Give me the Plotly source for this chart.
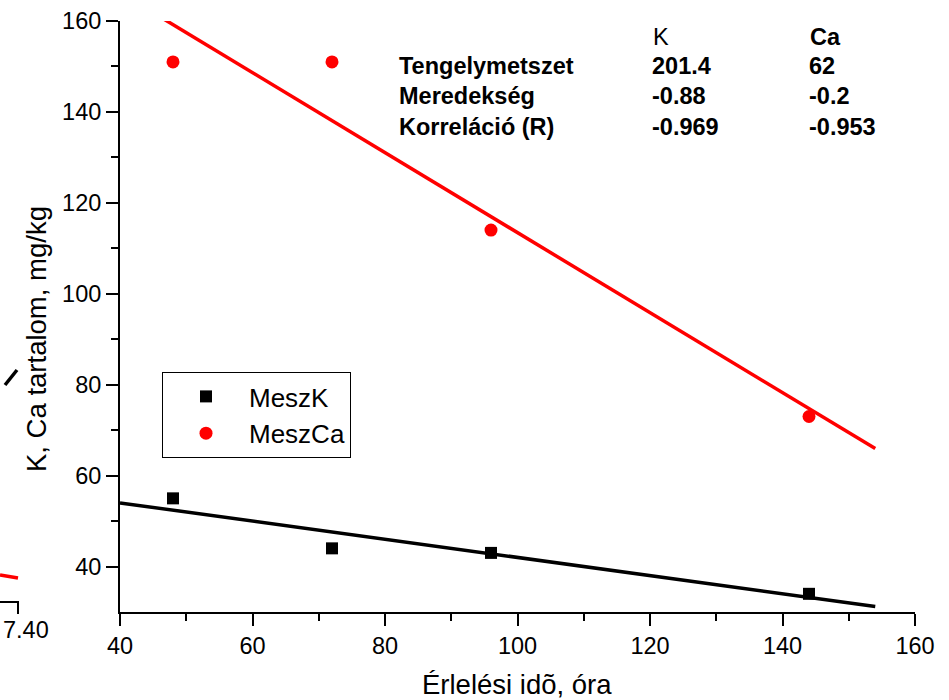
import numpy as np
import plotly.graph_objects as go

# ---- data ----
hours = [48, 72, 96, 144]
mesz_k = [55, 44, 43, 34]
mesz_ca = [151, 151, 114, 73]
fit_x_range = [40, 154]

table_rows = ["Tengelymetszet", "Meredekség", "Korreláció (R)"]
table_k = ["201.4", "-0.88", "-0.969"]
table_ca = ["62", "-0.2", "-0.953"]

x_ticks = [40, 60, 80, 100, 120, 140, 160]
y_ticks = [40, 60, 80, 100, 120, 140, 160]
y_minor = [50, 70, 90, 110, 130, 150]

x_title = "Érlelési idõ, óra"
y_title = "K, Ca tartalom, mg/kg"

# ---- figure geometry (pixels) ----
W, H = 949, 700
L, R, T, B = 120, 34, 21, 88
PW, PH = W - L - R, H - T - B


def px(xp):
    return (xp - L) / PW


def py(yp):
    return (H - B - yp) / PH


FONT = "Liberation Sans, Arial, sans-serif"

fig = go.Figure()

# regression lines (from data)
fx = np.array(fit_x_range, dtype=float)
sk, ik = np.polyfit(hours, mesz_k, 1)
sc, ic = np.polyfit(hours, mesz_ca, 1)
fig.add_trace(go.Scatter(x=fx, y=sk * fx + ik, mode="lines",
                         line=dict(color="black", width=3.5), showlegend=False,
                         hoverinfo="skip"))
fig.add_trace(go.Scatter(x=fx, y=sc * fx + ic, mode="lines",
                         line=dict(color="#ff0000", width=3.5), showlegend=False,
                         hoverinfo="skip"))

fig.add_trace(go.Scatter(x=hours, y=mesz_k, mode="markers", name="MeszK",
                         marker=dict(symbol="square", size=12, color="black")))
fig.add_trace(go.Scatter(x=hours, y=mesz_ca, mode="markers", name="MeszCa",
                         marker=dict(symbol="circle", size=13, color="#ff0000")))

axis_common = dict(
    showgrid=False, zeroline=False, showline=True, linecolor="black", linewidth=2,
    ticks="outside", ticklen=12, tickwidth=2, tickcolor="black", automargin=False,
    tickfont=dict(family=FONT, size=23.5, color="black"), mirror=False,
)

fig.update_xaxes(range=[40, 160], tickvals=x_ticks, **axis_common,
                 minor=dict(ticks="outside", ticklen=7, tickwidth=2, tickcolor="black", dtick=10))
fig.update_yaxes(range=[30, 160], tickvals=y_ticks, **axis_common,
                 minor=dict(ticks="outside", ticklen=7, tickwidth=2, tickcolor="black",
                            tickvals=y_minor))

TF = dict(family=FONT, size=23.5, color="black")
ann = []
hdr_y = 37
row_y = [66, 96, 127]
ann.append(dict(x=px(651), y=py(hdr_y), text="K", font=TF))
ann.append(dict(x=px(808), y=py(hdr_y), text="<b>Ca</b>", font=TF))
for lab, kv, cv, yy in zip(table_rows, table_k, table_ca, row_y):
    ann.append(dict(x=px(397), y=py(yy), text=f"<b>{lab}</b>", font=TF))
    ann.append(dict(x=px(650), y=py(yy), text=f"<b>{kv}</b>", font=TF))
    ann.append(dict(x=px(807), y=py(yy), text=f"<b>{cv}</b>", font=TF))
for a in ann:
    a.update(xref="paper", yref="paper", xanchor="left", yanchor="middle", showarrow=False)

# axis titles
ann.append(dict(x=px(517), y=py(702), xref="paper", yref="paper", xanchor="center", yanchor="bottom",
                text=x_title, showarrow=False, font=dict(family=FONT, size=27.5, color="black")))
ann.append(dict(x=px(36), y=py(339), xref="paper", yref="paper", xanchor="center", yanchor="middle",
                text=y_title, textangle=-90, showarrow=False,
                font=dict(family=FONT, size=27.5, color="black")))

# fragment of neighbouring chart on the left edge
ann.append(dict(x=px(51), y=py(630), xref="paper", yref="paper", xanchor="right", yanchor="middle",
                text="7.40", showarrow=False, font=dict(family=FONT, size=23.5, color="black")))

shapes = [
    dict(type="line", xref="paper", yref="paper", x0=px(0), y0=py(602), x1=px(18), y1=py(602),
         line=dict(color="black", width=2)),
    dict(type="line", xref="paper", yref="paper", x0=px(18), y0=py(601), x1=px(18), y1=py(614),
         line=dict(color="black", width=2)),
    dict(type="line", xref="paper", yref="paper", x0=px(0), y0=py(575), x1=px(18), y1=py(578),
         line=dict(color="#ff0000", width=3.5)),
    dict(type="line", xref="paper", yref="paper", x0=px(5), y0=py(385), x1=px(17), y1=py(370),
         line=dict(color="black", width=3.5)),
]

fig.update_layout(
    width=W, height=H,
    margin=dict(l=L, r=R, t=T, b=B, autoexpand=False),
    paper_bgcolor="white", plot_bgcolor="white",
    font=dict(family=FONT, color="black"),
    annotations=ann, shapes=shapes,
    legend=dict(x=px(162), y=py(372), xanchor="left", yanchor="top",
                bordercolor="black", borderwidth=1, bgcolor="white",
                font=dict(family=FONT, size=26, color="black"),
                itemwidth=76, tracegroupgap=0),
)

fig.write_html("out.html")
